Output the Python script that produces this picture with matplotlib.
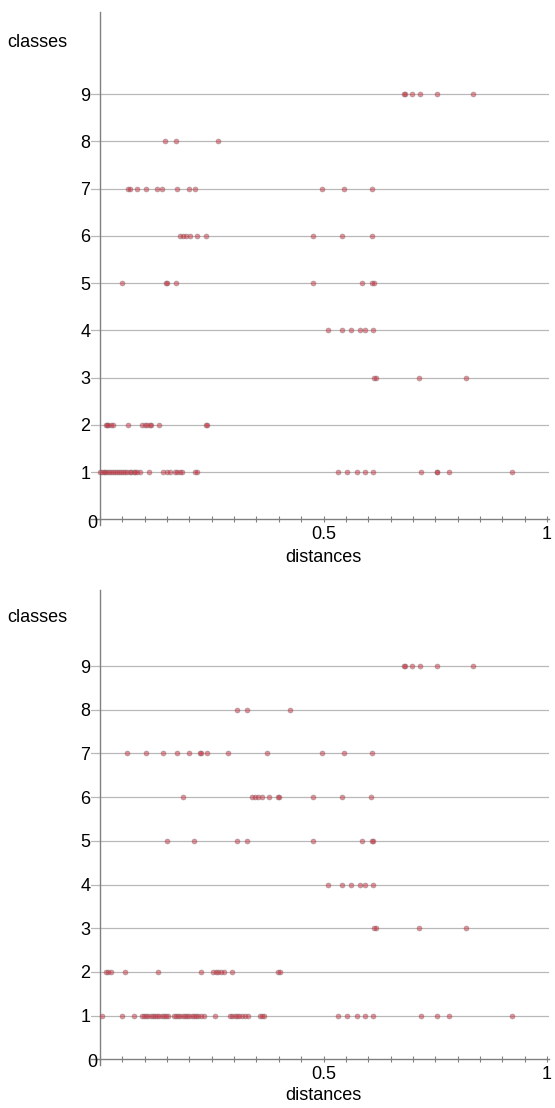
import matplotlib
matplotlib.use("Agg")
import matplotlib.pyplot as plt
from matplotlib.ticker import MultipleLocator

plt.rcParams["font.family"] = ["Liberation Sans", "DejaVu Sans"]

classes = [1, 2, 3, 4, 5, 6, 7, 8, 9]
x_ticks = [0.5, 1]
x_tick_labels = ["0.5", "1"]

# distances per class, upper chart
top_c1 = [0.0, 0.004, 0.008, 0.012, 0.016, 0.02, 0.025, 0.03, 0.034, 0.038, 0.043,
          0.047, 0.052, 0.056, 0.061, 0.066, 0.07, 0.075, 0.079, 0.082, 0.089, 0.110,
          0.142, 0.149, 0.157, 0.168, 0.173, 0.179, 0.184, 0.213, 0.218, 0.533, 0.553,
          0.574, 0.593, 0.611, 0.718, 0.753, 0.755, 0.781, 0.922]
top_c2 = [0.013, 0.015, 0.019, 0.024, 0.028, 0.063, 0.093, 0.1, 0.106, 0.112, 0.115,
          0.133, 0.238, 0.240]
top_c3 = [0.613, 0.617, 0.714, 0.819]
top_c4 = [0.509, 0.542, 0.562, 0.582, 0.593, 0.611]
top_c5 = [0.050, 0.148, 0.151, 0.169, 0.476, 0.587, 0.608, 0.613]
top_c6 = [0.180, 0.186, 0.192, 0.201, 0.218, 0.237, 0.477, 0.542, 0.608]
top_c7 = [0.062, 0.066, 0.082, 0.104, 0.127, 0.138, 0.173, 0.199, 0.213, 0.497, 0.546, 0.608]
top_c8 = [0.145, 0.169, 0.265]
top_c9 = [0.679, 0.682, 0.699, 0.716, 0.753, 0.834]

# distances per class, lower chart
bot_c1 = [0.004, 0.050, 0.075, 0.093, 0.098, 0.103, 0.108, 0.113, 0.118, 0.123, 0.128,
          0.133, 0.138, 0.143, 0.148, 0.153, 0.165, 0.170, 0.175, 0.180, 0.185, 0.190,
          0.195, 0.200, 0.205, 0.210, 0.215, 0.220, 0.226, 0.232, 0.257, 0.291, 0.296,
          0.301, 0.306, 0.312, 0.318, 0.324, 0.330, 0.358, 0.362, 0.367, 0.533, 0.553,
          0.574, 0.593, 0.611, 0.718, 0.753, 0.781, 0.922]
bot_c2 = [0.013, 0.019, 0.024, 0.056, 0.129, 0.227, 0.253, 0.259, 0.265, 0.270, 0.277,
          0.295, 0.399, 0.403]
bot_c3 = [0.613, 0.617, 0.714, 0.819]
bot_c4 = [0.509, 0.542, 0.562, 0.582, 0.593, 0.611]
bot_c5 = [0.149, 0.211, 0.306, 0.328, 0.476, 0.587, 0.608, 0.611]
bot_c6 = [0.185, 0.339, 0.347, 0.354, 0.362, 0.379, 0.399, 0.401, 0.477, 0.542, 0.606]
bot_c7 = [0.061, 0.103, 0.140, 0.172, 0.198, 0.224, 0.227, 0.240, 0.287, 0.373, 0.497,
          0.546, 0.608]
bot_c8 = [0.306, 0.328, 0.424]
bot_c9 = [0.679, 0.682, 0.699, 0.716, 0.753, 0.834]

top_data = [top_c1, top_c2, top_c3, top_c4, top_c5, top_c6, top_c7, top_c8, top_c9]
bot_data = [bot_c1, bot_c2, bot_c3, bot_c4, bot_c5, bot_c6, bot_c7, bot_c8, bot_c9]

W, H = 555, 1108
fig = plt.figure(figsize=(W / 100, H / 100), dpi=100)

XMIN, XMAX = -0.02, 1.005
YMIN, YMAX = -0.12, 10.74


def panel(top_px, bottom_px, data):
    left_px = 100 + XMIN * 447
    width_px = (XMAX - XMIN) * 447
    ax = fig.add_axes([left_px / W, 1 - bottom_px / H, width_px / W, (bottom_px - top_px) / H])
    ax.set_xlim(XMIN, XMAX)
    ax.set_ylim(YMIN, YMAX)
    for c, xs in zip(classes, data):
        ax.axhline(c, color="#b8b8b8", lw=0.9, zorder=1)
        ax.scatter(xs, [c] * len(xs), s=13, marker="o", facecolor="#d02a3a",
                   edgecolor="#707070", linewidth=0.5, alpha=0.5, zorder=3)
    for s in ["top", "right"]:
        ax.spines[s].set_visible(False)
    ax.spines["left"].set_position(("data", 0))
    ax.spines["bottom"].set_position(("data", 0))
    for s in ["left", "bottom"]:
        ax.spines[s].set_color("#808080")
        ax.spines[s].set_linewidth(1.0)
    ax.set_xticks(x_ticks, x_tick_labels)
    ax.xaxis.set_minor_locator(MultipleLocator(0.05))
    ax.tick_params(axis="x", which="both", direction="inout", length=4, width=0.8,
                   color="#808080", labelsize=13, pad=3)
    ax.set_yticks(classes)
    ax.tick_params(axis="y", length=0, labelsize=13, pad=7)
    ax.text(-0.006, -0.08, "0", ha="right", va="center", fontsize=13)
    ax.text(0.5, -0.82, "distances", ha="center", va="center", fontsize=13)
    ax.text(-0.208, 10.1, "classes", ha="left", va="center", fontsize=13, clip_on=False)
    return ax


panel(12, 519.25 + 0.12 * 47.25, top_data)
panel(590, 1059.4 + 0.12 * 43.7, bot_data)

fig.savefig("out.png", dpi=100)
